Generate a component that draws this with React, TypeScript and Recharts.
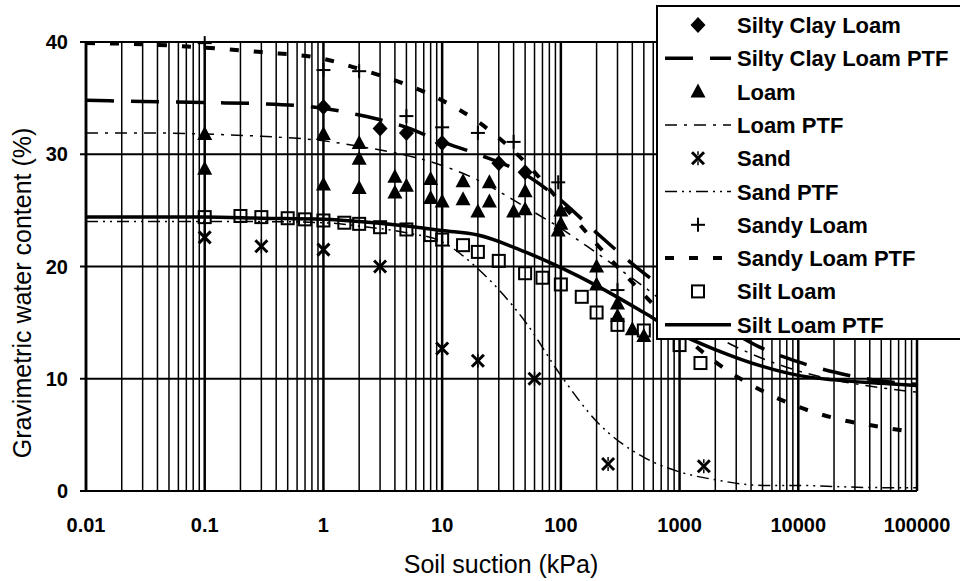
import React from 'react';
import {
  ComposedChart, Line, Scatter, XAxis, YAxis, CartesianGrid, ReferenceLine, Label,
} from 'recharts';

const FONT = '"Liberation Sans", Arial, Helvetica, sans-serif';

// decades on the log suction axis (labelled) and the minor multipliers between them
const decades = [0.01, 0.1, 1, 10, 100, 1000, 10000, 100000];
const minorSteps = [2, 3, 4, 5, 6, 7, 8, 9];
const yTicks = [0, 10, 20, 30, 40];

// measured points, suction (kPa) / water content (%)
const siltyClayLoamX = [1, 3, 5, 10, 30, 50];
const siltyClayLoamY = [34.2, 32.3, 31.9, 31.0, 29.2, 28.4];

const loamX = [0.1, 0.1, 1, 1, 2, 2, 2, 4, 4, 5, 8, 8, 10, 15, 15, 20, 25, 25, 40, 50, 50, 100, 100, 95, 200, 200, 300, 300, 400, 500];
const loamY = [31.8, 28.7, 31.8, 27.3, 31.0, 29.6, 27.0, 28.0, 26.6, 27.2, 27.8, 26.1, 25.8, 27.6, 26.0, 24.9, 27.5, 25.8, 24.9, 26.7, 25.1, 25.0, 23.8, 23.2, 20.0, 18.4, 16.7, 15.6, 14.4, 13.8];

const sandX = [0.1, 0.3, 1, 3, 10, 20, 60, 250, 1600];
const sandY = [22.6, 21.8, 21.5, 20.0, 12.7, 11.6, 10.0, 2.4, 2.2];

const sandyLoamX = [0.1, 1, 2, 5, 10, 20, 40, 95, 300];
const sandyLoamY = [39.9, 37.5, 37.4, 33.4, 32.4, 31.9, 31.1, 27.5, 17.9];

const siltLoamX = [0.1, 0.2, 0.3, 0.5, 0.7, 1, 1.5, 2, 3, 5, 8, 10, 15, 20, 30, 50, 70, 100, 150, 200, 300, 500, 1000, 1500];
const siltLoamY = [24.4, 24.5, 24.4, 24.3, 24.2, 24.1, 23.9, 23.8, 23.5, 23.3, 22.8, 22.4, 21.9, 21.3, 20.5, 19.4, 19.0, 18.4, 17.3, 15.9, 14.8, 14.3, 13.0, 11.4];

// PTF curves, read at these suctions
const ptfSuction = [0.01, 0.03, 0.1, 0.3, 1, 2, 5, 10, 20, 50, 100, 200, 500, 1000, 2000, 5000, 10000, 20000, 50000, 100000];
const siltyClayLoamPtf = [34.8, 34.7, 34.6, 34.5, 34.1, 33.5, 32.4, 31.1, 30.0, 28.2, 25.9, 23.0, 19.4, 17.1, 15.1, 12.7, 11.5, 10.6, 9.8, 9.5];
const loamPtf = [31.9, 31.9, 31.8, 31.6, 31.2, 30.7, 29.9, 29.0, 27.7, 25.3, 23.4, 21.2, 18.2, 15.8, 13.8, 11.8, 10.7, 9.9, 9.2, 8.8];
const sandPtf = [24.0, 24.0, 24.0, 24.0, 23.9, 23.6, 23.0, 22.2, 19.8, 15.1, 10.3, 6.2, 3.0, 1.7, 1.0, 0.5, 0.5, 0.4, 0.3, 0.3];
const sandyLoamPtf = [39.9, 39.8, 39.5, 39.1, 38.5, 37.6, 36.2, 34.8, 32.9, 29.3, 25.7, 22.0, 17.5, 14.2, 11.5, 8.9, 7.5, 6.5, 5.7, 5.2];
const siltLoamPtf = [24.4, 24.4, 24.4, 24.3, 24.2, 24.0, 23.6, 23.2, 22.8, 21.3, 19.9, 18.3, 15.9, 14.0, 12.6, 11.1, 10.3, 9.9, 9.6, 9.4];

const toPoints = (xs: number[], ys: number[]) => xs.map((x, i) => ({ x, y: ys[i] }));

// marker shapes
const diamond = (cx: number, cy: number) => (
  <polygon points={`${cx},${cy - 8} ${cx + 7.5},${cy} ${cx},${cy + 8} ${cx - 7.5},${cy}`} fill="#000" />
);
const triangle = (cx: number, cy: number) => (
  <polygon points={`${cx},${cy - 8} ${cx + 7.5},${cy + 6} ${cx - 7.5},${cy + 6}`} fill="#000" />
);
const star = (cx: number, cy: number) => (
  <g stroke="#000" strokeWidth={3}>
    <line x1={cx - 6} y1={cy - 6} x2={cx + 6} y2={cy + 6} />
    <line x1={cx - 6} y1={cy + 6} x2={cx + 6} y2={cy - 6} />
    <line x1={cx} y1={cy - 7} x2={cx} y2={cy - 3} strokeWidth={1.5} />
    <line x1={cx} y1={cy + 3} x2={cx} y2={cy + 7} strokeWidth={1.5} />
  </g>
);
const plus = (cx: number, cy: number) => (
  <g stroke="#000" strokeWidth={2}>
    <line x1={cx - 7} y1={cy} x2={cx + 7} y2={cy} />
    <line x1={cx} y1={cy - 7} x2={cx} y2={cy + 7} />
  </g>
);
const square = (cx: number, cy: number) => (
  <rect x={cx - 6} y={cy - 6} width={12} height={12} fill="none" stroke="#000" strokeWidth={2} />
);

const shapeOf = (draw: (cx: number, cy: number) => React.ReactNode) =>
  (p: any) => <g>{draw(p.cx, p.cy)}</g>;

const LEGEND = [
  { label: 'Silty Clay Loam', marker: diamond },
  { label: 'Silty Clay Loam PTF', dash: '28 17', width: 3.5 },
  { label: 'Loam', marker: triangle },
  { label: 'Loam PTF', dash: '12 7 3 7', width: 1.5 },
  { label: 'Sand', marker: star },
  { label: 'Sand PTF', dash: '12 5 2 5 2 5', width: 1.5 },
  { label: 'Sandy Loam', marker: plus },
  { label: 'Sandy Loam PTF', dash: '9 15', width: 4 },
  { label: 'Silt Loam', marker: square },
  { label: 'Silt Loam PTF', dash: undefined, width: 3.5 },
];

const LegendBox = () => (
  <svg width={960} height={581} style={{ position: 'absolute', left: 0, top: 0, pointerEvents: 'none' }}>
    <rect x={657} y={6} width={320} height={333} fill="#fff" stroke="#000" strokeWidth={2} />
    {LEGEND.map((item, i) => {
      const cy = 25 + i * 33.3;
      return (
        <g key={item.label}>
          {item.marker
            ? item.marker(698, cy)
            : <line x1={665} y1={cy} x2={731} y2={cy} stroke="#000" strokeWidth={item.width}
                strokeDasharray={item.dash} />}
          <text x={737} y={cy + 8} fontFamily={FONT} fontSize={22} fontWeight={700} fill="#000">
            {item.label}
          </text>
        </g>
      );
    })}
  </svg>
);

export default function App() {
  const minorLines = decades.slice(0, -1).flatMap(d => minorSteps.map(m => d * m));

  return (
    <div style={{ position: 'fixed', left: 0, top: 0, width: 960, height: 581, background: '#fff', overflow: 'hidden' }}>
      <ComposedChart width={960} height={581} margin={{ top: 42, right: 43, bottom: 0, left: 0 }}>
        <CartesianGrid vertical={false} stroke="#000" strokeWidth={2} />
        <XAxis
          dataKey="x"
          type="number"
          scale="log"
          domain={[0.01, 100000]}
          allowDataOverflow
          ticks={decades}
          interval={0}
          tickFormatter={(v: number) => String(v)}
          height={90}
          tickSize={0}
          tickMargin={27}
          tickLine={false}
          axisLine={{ stroke: '#000', strokeWidth: 2 }}
          tick={{ fill: '#000', fontSize: 20, fontWeight: 700, fontFamily: FONT }}
        >
          <Label
            content={() => (
              <text x={501} y={573} textAnchor="middle" fontFamily={FONT} fontSize={25} fill="#000">
                Soil suction (kPa)
              </text>
            )}
          />
        </XAxis>
        <YAxis
          dataKey="y"
          type="number"
          domain={[0, 40]}
          ticks={yTicks}
          interval={0}
          width={86}
          tickSize={6}
          tickMargin={12}
          tickLine={{ stroke: '#000', strokeWidth: 2 }}
          axisLine={{ stroke: '#000', strokeWidth: 2.5 }}
          tick={{ fill: '#000', fontSize: 20, fontWeight: 700, fontFamily: FONT }}
        >
          <Label
            content={() => (
              <text transform="translate(31,293) rotate(-90)" textAnchor="middle" fontFamily={FONT}
                fontSize={25} fill="#000">
                Gravimetric water content (%)
              </text>
            )}
          />
        </YAxis>

        {minorLines.map(v => (
          <ReferenceLine key={`m${v}`} x={v} stroke="#000" strokeWidth={1.5} />
        ))}
        {decades.map(v => (
          <ReferenceLine key={`d${v}`} x={v} stroke="#000" strokeWidth={2.5} />
        ))}

        <Line data={toPoints(ptfSuction, siltyClayLoamPtf)} dataKey="y" type="monotone" stroke="#000"
          strokeWidth={3.5} strokeDasharray="28 17" dot={false} isAnimationActive={false} />
        <Line data={toPoints(ptfSuction, loamPtf)} dataKey="y" type="monotone" stroke="#000"
          strokeWidth={1.5} strokeDasharray="12 7 3 7" dot={false} isAnimationActive={false} />
        <Line data={toPoints(ptfSuction, sandPtf)} dataKey="y" type="monotone" stroke="#000"
          strokeWidth={1.5} strokeDasharray="12 5 2 5 2 5" dot={false} isAnimationActive={false} />
        <Line data={toPoints(ptfSuction, sandyLoamPtf)} dataKey="y" type="monotone" stroke="#000"
          strokeWidth={4} strokeDasharray="9 15" dot={false} isAnimationActive={false} />
        <Line data={toPoints(ptfSuction, siltLoamPtf)} dataKey="y" type="monotone" stroke="#000"
          strokeWidth={3.5} dot={false} isAnimationActive={false} />

        <Scatter data={toPoints(siltyClayLoamX, siltyClayLoamY)} shape={shapeOf(diamond)} isAnimationActive={false} />
        <Scatter data={toPoints(loamX, loamY)} shape={shapeOf(triangle)} isAnimationActive={false} />
        <Scatter data={toPoints(sandX, sandY)} shape={shapeOf(star)} isAnimationActive={false} />
        <Scatter data={toPoints(sandyLoamX, sandyLoamY)} shape={shapeOf(plus)} isAnimationActive={false} />
        <Scatter data={toPoints(siltLoamX, siltLoamY)} shape={shapeOf(square)} isAnimationActive={false} />
      </ComposedChart>
      <LegendBox />
    </div>
  );
}
